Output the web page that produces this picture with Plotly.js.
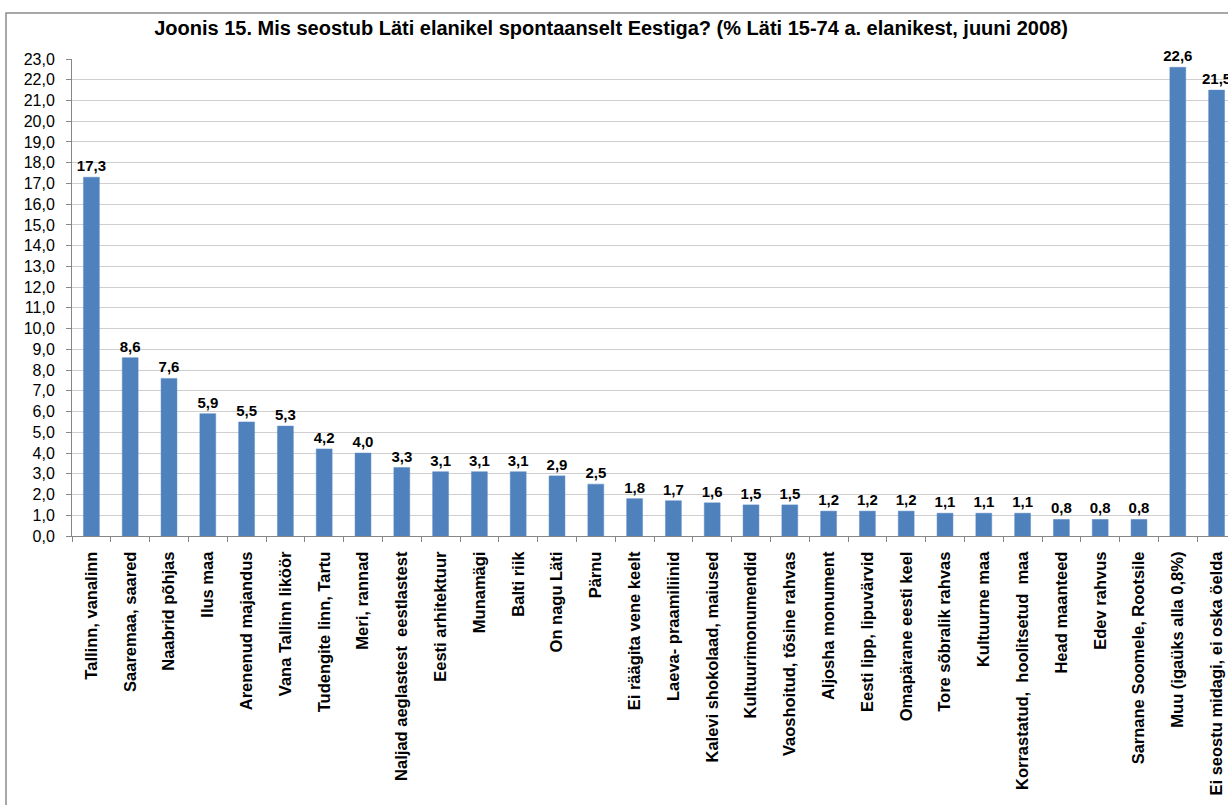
<!DOCTYPE html>
<html>
<head>
<meta charset="utf-8">
<script src="https://cdn.plot.ly/plotly-3.0.1.min.js"></script>
<style>
html,body{margin:0;padding:0;overflow:hidden;background:#fff;}
#chart{width:1250px;height:830px;}
</style>
</head>
<body>
<div id="chart"></div>
<script>
const categories = [
  "Tallinn, vanalinn",
  "Saaremaa, saared",
  "Naabrid põhjas",
  "Ilus maa",
  "Arenenud majandus",
  "Vana Tallinn liköör",
  "Tudengite linn, Tartu",
  "Meri, rannad",
  "Naljad aeglastest  eestlastest",
  "Eesti arhitektuur",
  "Munamägi",
  "Balti riik",
  "On nagu Läti",
  "Pärnu",
  "Ei räägita vene keelt",
  "Laeva- praamiliinid",
  "Kalevi shokolaad, maiused",
  "Kultuurimonumendid",
  "Vaoshoitud, tõsine rahvas",
  "Aljosha monument",
  "Eesti lipp, lipuvärvid",
  "Omapärane eesti keel",
  "Tore sõbralik rahvas",
  "Kultuurne maa",
  "Korrastatud,  hoolitsetud  maa",
  "Head maanteed",
  "Edev rahvus",
  "Sarnane Soomele, Rootsile",
  "Muu (igaüks alla 0,8%)",
  "Ei seostu midagi, ei oska öelda"
];
const values = [17.3, 8.6, 7.6, 5.9, 5.5, 5.3, 4.2, 4.0, 3.3, 3.1, 3.1, 3.1, 2.9, 2.5, 1.8, 1.7, 1.6, 1.5, 1.5, 1.2, 1.2, 1.2, 1.1, 1.1, 1.1, 0.8, 0.8, 0.8, 22.6, 21.5];
const yTicks = [0,1,2,3,4,5,6,7,8,9,10,11,12,13,14,15,16,17,18,19,20,21,22,23];
const titleText = "Joonis 15. Mis seostub Läti elanikel spontaanselt Eestiga? (% Läti 15-74 a. elanikest, juuni 2008)";

const W = 1250, H = 830, L = 72, T = 59, PW = 1164, PH = 477;
const R = W - L - PW, B = H - T - PH;

const trace = {
  type: 'bar',
  x: categories,
  y: values,
  width: 0.41,
  marker: {color: '#4F81BD', line: {color: '#5B8BC6', width: 0.5}},
  texttemplate: '%{y:.1f}',
  textposition: 'outside',
  constraintext: 'none',
  textfont: {family: 'Liberation Sans, Arial, sans-serif', size: 15, color: '#000', weight: 'bold'},
  cliponaxis: false,
  hoverinfo: 'x+y'
};

const layout = {
  width: W, height: H,
  margin: {l: L, r: R, t: T, b: B},
  separators: ', ',
  paper_bgcolor: '#fff', plot_bgcolor: '#fff',
  font: {family: 'Liberation Sans, Arial, sans-serif', color: '#000'},
  showlegend: false,
  title: {
    text: '<b>' + titleText + '</b>',
    font: {size: 20, color: '#000'},
    x: (611 - L) / PW, xref: 'paper', xanchor: 'center',
    y: 1 - 28 / H, yref: 'container', yanchor: 'middle'
  },
  xaxis: {
    type: 'category',
    tickangle: -90,
    tickson: 'boundaries',
    ticks: 'outside', ticklen: 5, tickcolor: '#868686',
    ticklabelstandoff: 8,
    showline: true, linecolor: '#868686', linewidth: 1,
    showgrid: false,
    tickfont: {size: 16.5, color: '#000', weight: 'bold'},
    automargin: false
  },
  yaxis: {
    range: [0, 23],
    tickvals: yTicks,
    tickformat: '.1f',
    ticks: 'outside', ticklen: 5, tickcolor: '#868686',
    ticklabelstandoff: 8,
    showline: true, linecolor: '#868686', linewidth: 1,
    showgrid: true, gridcolor: '#cfcfcf', gridwidth: 1,
    zeroline: false,
    tickfont: {size: 16, color: '#000'},
    automargin: false
  },
  shapes: [{
    type: 'rect', xref: 'paper', yref: 'paper',
    x0: (6 - L) / PW, x1: 1.5,
    y0: -1, y1: (T + PH - 13) / PH,
    line: {color: '#8c8c8c', width: 1.5},
    fillcolor: 'rgba(0,0,0,0)',
    layer: 'below'
  }]
};

Plotly.newPlot('chart', [trace], layout, {displayModeBar: false, staticPlot: true});
</script>
</body>
</html>
